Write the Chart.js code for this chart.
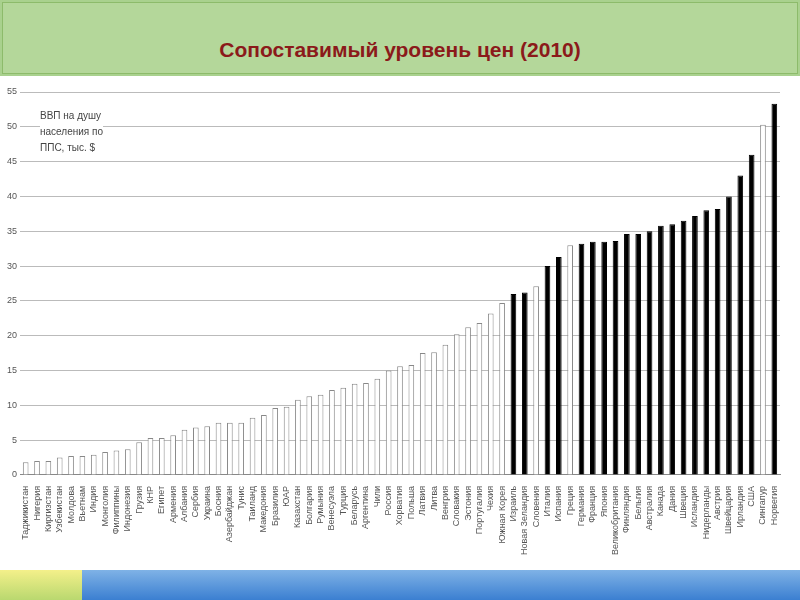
<!DOCTYPE html>
<html>
<head>
<meta charset="utf-8">
<script src="https://cdn.jsdelivr.net/npm/chart.js@4/dist/chart.umd.min.js"></script>
<style>
  body { margin: 0; width: 800px; height: 600px; background: #fff; position: relative; overflow: hidden; font-family: "Liberation Sans", Arial, sans-serif; }
  #head { position: absolute; left: 0; top: 0; width: 800px; height: 76px; background: #a9d18e; }
  #head div { position: absolute; left: 2px; top: 2px; right: 2px; bottom: 2px; border: 1px solid #8dbb6b; background: #b4d79a; }
  #title { position: absolute; left: 0; width: 800px; top: 38px; text-align: center; color: #8b1a1a; font-weight: bold; font-size: 21px; }
  #foot { position: absolute; left: 0; top: 570px; width: 800px; height: 30px; background: linear-gradient(#7fb2e6, #3b7fd1); }
  #foot2 { position: absolute; left: 0; top: 570px; width: 82px; height: 30px; background: linear-gradient(#f4f08a, #b9d86f); }
  #wrap { position: absolute; left: 0; top: 80px; width: 800px; height: 482px; }
  #note { position: absolute; left: 40px; top: 108px; font-size: 10px; line-height: 16px; color: #444; background: #fff; }
</style>
</head>
<body>
<div id="head"><div></div></div>
<div id="title">Сопоставимый уровень цен (2010)</div>
<div id="wrap"><canvas id="chart"></canvas></div>
<div id="note">ВВП на душу<br>населения по<br>ППС, тыс. $</div>
<div id="foot"></div>
<div id="foot2"></div>
<script>
const countries = ["Таджикистан", "Нигерия", "Киргизстан", "Узбекистан", "Молдова", "Вьетнам", "Индия", "Монголия",
  "Филиппины", "Индонезия", "Грузия", "КНР", "Египет", "Армения", "Албания", "Сербия", "Украина", "Босния",
  "Азербайджан", "Тунис", "Таиланд", "Македония", "Бразилия", "ЮАР", "Казахстан", "Болгария", "Румыния",
  "Венесуэла", "Турция", "Беларусь", "Аргентина", "Чили", "Россия", "Хорватия", "Польша", "Латвия", "Литва",
  "Венгрия", "Словакия", "Эстония", "Португалия", "Чехия", "Южная Корея", "Израиль", "Новая Зеландия",
  "Словения", "Италия", "Испания", "Греция", "Германия", "Франция", "Япония", "Великобритания", "Финляндия",
  "Бельгия", "Австралия", "Канада", "Дания", "Швеция", "Исландия", "Нидерланды", "Австрия", "Швейцария",
  "Ирландия", "США", "Сингапур", "Норвегия"];
const gdpPpp = [1.8, 2.0, 2.0, 2.5, 2.7, 2.7, 2.9, 3.3, 3.5, 3.7, 4.7, 5.3, 5.3, 5.7, 6.5, 6.8, 7.0, 7.5,
  7.5, 7.5, 8.2, 8.6, 9.6, 9.8, 10.8, 11.3, 11.5, 12.2, 12.5, 13.1, 13.2, 13.8, 15.0, 15.6, 15.8, 17.5, 17.6,
  18.7, 20.2, 21.2, 21.8, 23.2, 24.7, 26.0, 26.2, 27.1, 30.0, 31.3, 33.0, 33.2, 33.5, 33.5, 33.6, 34.6,
  34.6, 35.0, 35.8, 36.0, 36.5, 37.2, 38.0, 38.2, 40.0, 43.0, 46.0, 50.3, 53.3];
// true = black bar
const dark = countries.map((c, i) => i >= 43 && !["Словения", "Греция", "Сингапур"].includes(c));

new Chart(document.getElementById("chart"), {
  type: "bar",
  data: {
    labels: countries,
    datasets: [{
      data: gdpPpp,
      backgroundColor: dark.map(d => d ? "#000" : "#fff"),
      borderColor: dark.map(d => d ? "#000" : "#888"),
      borderWidth: 1,
      barPercentage: 0.5,
      categoryPercentage: 1
    }]
  },
  options: {
    responsive: true,
    maintainAspectRatio: false,
    animation: false,
    layout: { padding: { left: 4, right: 20, top: 12, bottom: 4 } },
    plugins: { legend: { display: false }, tooltip: { enabled: false } },
    scales: {
      x: {
        grid: { display: false },
        border: { color: "#888" },
        ticks: { autoSkip: false, maxRotation: 90, minRotation: 90, color: "#555", font: { size: 9 } }
      },
      y: {
        min: 0, max: 55,
        ticks: { stepSize: 5, color: "#555", font: { size: 9 } },
        grid: { color: "#bbb", drawTicks: false },
        border: { display: false }
      }
    }
  }
});
</script>
</body>
</html>
